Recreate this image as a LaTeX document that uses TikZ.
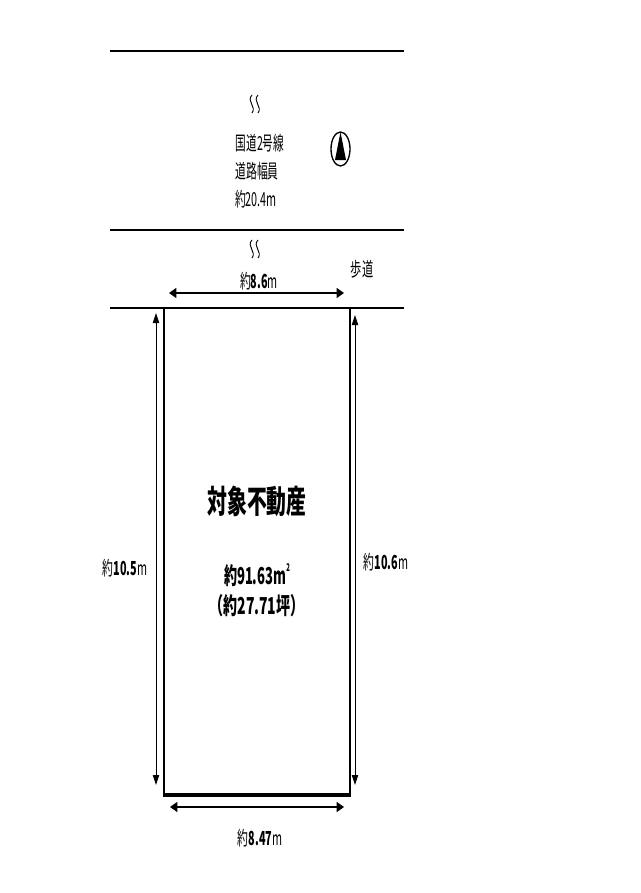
\documentclass[tikz,border=0pt]{standalone}
\usepackage{graphicx}
\usepackage{fontspec}
\setmainfont{Noto Sans CJK JP}
\usetikzlibrary{arrows.meta}
\newcommand{\narrowtext}[2]{\scalebox{#1}[1]{#2}}
\newcommand{\yaku}{{\mdseries 約}}
\tikzset{every picture/.style={line width=0.75pt}}
\tikzset{
  road/.style={line width=1.5pt},
  wave/.style={line width=0.7pt},
  dimh/.style={line width=1pt,{Triangle[length=5.5pt,width=7.5pt]}-{Triangle[length=5.5pt,width=7.5pt]}},
  dimv/.style={line width=0.6pt,{Triangle[length=7.5pt,width=4.8pt]}-{Triangle[length=7.5pt,width=4.8pt]}},
  thinlabel/.style={inner sep=0.75pt,font=\fontsize{14.5}{16}\selectfont},
  boldlabel/.style={inner sep=0.75pt,font=\fontsize{14.5}{16}\selectfont\bfseries},
}

\begin{document}
\begin{tikzpicture}[x=0.75pt,y=0.75pt,yscale=-1,xscale=1]
\useasboundingbox (0,0) rectangle (640,893);

%Road lines
\coordinate (roadtopL) at (110,51);
\coordinate (roadtopR) at (404,51);
\coordinate (roadmidL) at (110,230);
\coordinate (roadmidR) at (404,230);
\coordinate (roadlowL) at (110,308);
\coordinate (roadlowR) at (404,308);
\draw [road] (roadtopL) -- (roadtopR);
\draw [road] (roadmidL) -- (roadmidR);
\draw [road] (roadlowL) -- (roadlowR);

%Break marks
\draw [wave] (252,95) .. controls (246,101) and (257,107) .. (252,113);
\draw [wave] (258,95) .. controls (252,101) and (263,107) .. (258,113);
\draw [wave] (252,240) .. controls (246,246) and (257,252) .. (252,258);
\draw [wave] (258,240) .. controls (252,246) and (263,252) .. (258,258);

%North mark
\draw [line width=1pt] (340.5,149) ellipse [x radius=9.5,y radius=17];
\fill (340.5,132) -- (346,160) -- (335,160) -- cycle;

%Lot
\draw [line width=1.9pt] (164,308) -- (350,308) -- (350,795);
\draw [line width=1.9pt] (164,308) -- (164,795);
\draw [line width=3.2pt] (163,795) -- (351,795);

%Dimension arrows
\coordinate (frontL) at (169,293);
\coordinate (frontR) at (344,293);
\coordinate (leftT) at (156,313);
\coordinate (leftB) at (156,785);
\coordinate (rightT) at (355,315);
\coordinate (rightB) at (355,785);
\coordinate (rearL) at (170,807);
\coordinate (rearR) at (344,807);
\draw [dimh] (frontL) -- (frontR);
\draw [dimv] (leftT) -- (leftB);
\draw [dimv] (rightT) -- (rightB);
\draw [dimh] (rearL) -- (rearR);

% Text Node
\node (route) [thinlabel] at (260,143) {\narrowtext{0.55}{国道2号線}};
% Text Node
\node (width) [thinlabel] at (257,171) {\narrowtext{0.56}{道路幅員}};
% Text Node
\node (widthval) [thinlabel] at (256,199) {\narrowtext{0.56}{約20.4m}};
% Text Node
\node (walk) [thinlabel] at (362,269) {\narrowtext{0.58}{歩道}};
% Text Node
\node (front) [boldlabel] at (259,281) {\narrowtext{0.56}{\yaku 8.6{\mdseries m}}};
% Text Node
\node (leftlen) [boldlabel] at (125,568) {\narrowtext{0.56}{\yaku 10.5{\mdseries m}}};
% Text Node
\node (rightlen) [boldlabel] at (386,562) {\narrowtext{0.56}{\yaku 10.6{\mdseries m}}};
% Text Node
\node (rear) [boldlabel] at (260,838) {\narrowtext{0.56}{\yaku 8.47{\mdseries m}}};
% Text Node
\node (title) [inner sep=0.75pt,font=\fontsize{24}{28}\selectfont\bfseries] at (257,501) {\narrowtext{0.62}{対象不動産}};
% Text Node
\node (area) [inner sep=0.75pt,font=\fontsize{17.5}{20}\selectfont\bfseries] at (257,575) {\narrowtext{0.56}{約91.63m\raisebox{1.0ex}{\fontsize{8}{8}\selectfont 2}}};
% Text Node
\node (tsubo) [inner sep=0.75pt,font=\fontsize{17.5}{20}\selectfont\bfseries] at (257,606) {\narrowtext{0.6}{（約27.71坪）}};

\end{tikzpicture}
\end{document}
